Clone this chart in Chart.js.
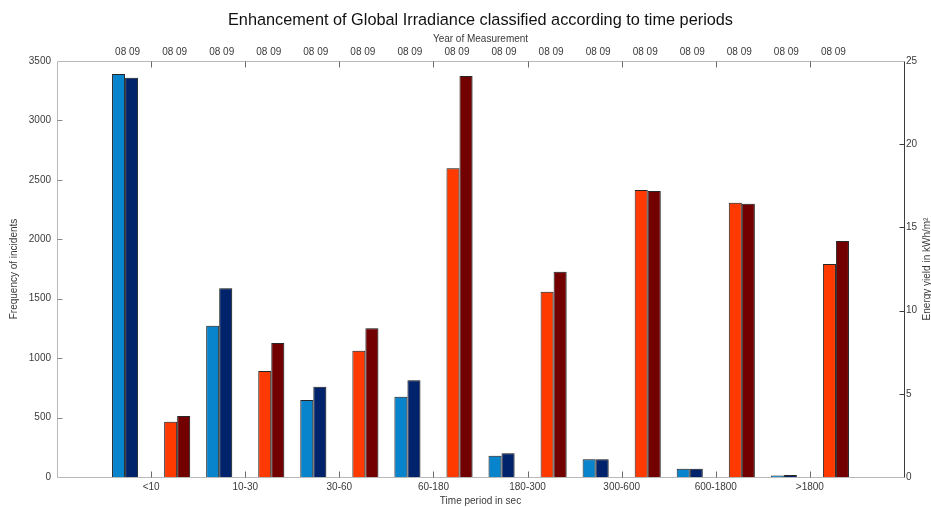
<!DOCTYPE html>
<html>
<head>
<meta charset="utf-8">
<title>Enhancement of Global Irradiance</title>
<script src="https://cdn.jsdelivr.net/npm/chart.js@4/dist/chart.umd.min.js"></script>
<style>
  html, body { margin: 0; padding: 0; background: #fff; }
  #wrap { width: 931px; height: 507px; }
</style>
</head>
<body>
<div id="wrap"><canvas id="c" width="931" height="507"></canvas></div>
<script>
// Time-period classes (seconds)
const periods = ['<10', '10-30', '30-60', '60-180', '180-300', '300-600', '600-1800', '>1800'];
const years = ['08', '09'];

// Frequency of incidents (left axis)
const freq08 = [3390, 1273, 648, 676, 179, 149, 70, 12];
const freq09 = [3360, 1588, 760, 814, 199, 149, 70, 16];

// Energy yield in kWh/m² (right axis)
const energy08 = [3.32, 6.37, 7.59, 18.55, 11.14, 17.25, 16.48, 12.8];
const energy09 = [3.67, 8.05, 8.94, 24.1, 12.34, 17.19, 16.42, 14.18];

// Axis ranges and tick steps
const freqTicks = [0, 500, 1000, 1500, 2000, 2500, 3000, 3500];
const energyTicks = [0, 5, 10, 15, 20, 25];

// Empty category at each end so the classes sit one step inside the frame
const labels = [''].concat(periods, ['']);
const pad = arr => [null].concat(arr, [null]);
const blank = labels.map(() => null);

const CAT_PCT = 0.83;      // share of a category occupied by the 6 bar slots
const YEAR_LABEL_STEP = 0.25; // year labels sit a quarter step either side of each class
const yearTickValues = [];
periods.forEach((p, i) => {
  yearTickValues.push(i + 1 - YEAR_LABEL_STEP, i + 1 + YEAR_LABEL_STEP);
});

const AREA = { left: 57, right: 904, top: 61, bottom: 477 };
const W = 931, H = 507;
const TITLE_PAD_TOP = 11, TITLE_SIZE = 16.3;
const TITLE_BLOCK = TITLE_PAD_TOP + TITLE_SIZE * 1.2;
const FONT_FAMILY = 'Liberation Sans, Arial, sans-serif';
const TICK_FONT = { family: FONT_FAMILY, size: 10 };
const TICK_COLOR = '#3a3a3a';

// Frame, inward tick marks and the right-hand axis title
const framePlugin = {
  id: 'frame',
  beforeDatasetsDraw(chart) {
    const ctx = chart.ctx;
    ctx.save();
    ctx.shadowColor = 'rgba(0,0,0,0.28)';
    ctx.shadowBlur = 2;
    ctx.shadowOffsetX = 1;
    ctx.shadowOffsetY = 0;
  },
  afterDatasetsDraw(chart) {
    chart.ctx.restore();
  },
  afterDraw(chart) {
    const { ctx, chartArea: a, scales } = chart;
    const L = Math.round(a.left) + 0.5, R = Math.round(a.right) + 0.5;
    const T = Math.round(a.top) + 0.5, B = Math.round(a.bottom) + 0.5;
    ctx.save();
    ctx.lineWidth = 1;
    ctx.strokeStyle = '#b8b8b8';
    ctx.beginPath();
    ctx.moveTo(R, T); ctx.lineTo(L, T); ctx.lineTo(L, B); ctx.lineTo(R, B);
    ctx.stroke();
    ctx.strokeStyle = '#3c3c3c';
    ctx.beginPath();
    ctx.moveTo(R, T); ctx.lineTo(R, B);
    ctx.stroke();

    // class ticks on top and bottom edges
    ctx.strokeStyle = '#6a6a6a';
    ctx.beginPath();
    periods.forEach((p, i) => {
      const x = Math.round(scales.x.getPixelForValue(i + 1)) + 0.5;
      ctx.moveTo(x, B); ctx.lineTo(x, B - 6);
      ctx.moveTo(x, T); ctx.lineTo(x, T + 6);
    });
    ctx.stroke();

    // left ticks
    ctx.strokeStyle = '#8a8a8a';
    ctx.beginPath();
    freqTicks.slice(1, -1).forEach(v => {
      const y = Math.round(scales.y.getPixelForValue(v)) + 0.5;
      ctx.moveTo(L, y); ctx.lineTo(L + 5, y);
    });
    ctx.stroke();

    // right ticks
    ctx.strokeStyle = '#3c3c3c';
    ctx.beginPath();
    energyTicks.slice(1, -1).forEach(v => {
      const y = Math.round(scales.y1.getPixelForValue(v)) + 0.5;
      ctx.moveTo(R, y); ctx.lineTo(R - 5, y);
    });
    ctx.stroke();

    // right axis title, reading upward like the left one
    ctx.fillStyle = TICK_COLOR;
    ctx.font = '10px ' + FONT_FAMILY;
    ctx.textAlign = 'center';
    ctx.textBaseline = 'middle';
    ctx.translate(927, (a.top + a.bottom) / 2);
    ctx.rotate(-Math.PI / 2);
    ctx.fillText('Energy yield in kWh/m²', 0, 0);
    ctx.restore();
  }
};

const barBase = { borderColor: '#2a2a2a', borderWidth: 1, borderSkipped: 'start',
                  categoryPercentage: CAT_PCT, barPercentage: 1.0, xAxisID: 'x' };
const plainNumber = v => String(v);

new Chart(document.getElementById('c'), {
  type: 'bar',
  data: {
    labels: labels,
    datasets: [
      Object.assign({ label: 'Frequency ' + years[0], data: pad(freq08), backgroundColor: '#0884cc', yAxisID: 'y' }, barBase),
      Object.assign({ label: 'Frequency ' + years[1], data: pad(freq09), backgroundColor: '#00236b', yAxisID: 'y' }, barBase),
      Object.assign({ label: 'gap a', data: blank, backgroundColor: 'transparent', yAxisID: 'y' }, barBase),
      Object.assign({ label: 'gap b', data: blank, backgroundColor: 'transparent', yAxisID: 'y' }, barBase),
      Object.assign({ label: 'Energy ' + years[0], data: pad(energy08), backgroundColor: '#ff3a00', yAxisID: 'y1' }, barBase),
      Object.assign({ label: 'Energy ' + years[1], data: pad(energy09), backgroundColor: '#730000', yAxisID: 'y1' }, barBase)
    ]
  },
  plugins: [framePlugin],
  options: {
    responsive: false,
    animation: false,
    layout: { padding: 0 },
    plugins: {
      legend: { display: false },
      tooltip: { enabled: false },
      title: {
        display: true,
        fullSize: false,
        text: 'Enhancement of Global Irradiance classified according to time periods',
        color: '#111',
        font: { family: FONT_FAMILY, size: TITLE_SIZE, weight: 'normal', lineHeight: 1.2 },
        padding: { top: TITLE_PAD_TOP, bottom: 0 }
      }
    },
    scales: {
      x: {
        type: 'category',
        position: 'bottom',
        offset: false,
        grid: { display: false, drawTicks: false, offset: false },
        border: { display: false },
        ticks: { font: TICK_FONT, color: TICK_COLOR, padding: 4, autoSkip: false, maxRotation: 0 },
        title: { display: true, text: 'Time period in sec', font: TICK_FONT, color: TICK_COLOR, padding: { top: 0, bottom: 0 } },
        afterFit(s) { s.height = H - AREA.bottom; }
      },
      x2: {
        type: 'linear',
        position: 'top',
        offset: false,
        min: 0,
        max: labels.length - 1,
        grid: { display: false, drawTicks: false, offset: false },
        border: { display: false },
        afterBuildTicks(s) { s.ticks = yearTickValues.map(v => ({ value: v })); },
        ticks: { font: TICK_FONT, color: TICK_COLOR, padding: 3, autoSkip: false, maxRotation: 0,
                 callback: () => years.join(' ') },
        title: { display: true, text: 'Year of Measurement', font: TICK_FONT, color: TICK_COLOR, padding: { top: 3, bottom: 0 } },
        afterFit(s) { s.height = AREA.top - TITLE_BLOCK; }
      },
      y: {
        position: 'left',
        min: 0,
        max: freqTicks[freqTicks.length - 1],
        grid: { display: false, drawTicks: false },
        border: { display: false },
        afterBuildTicks(s) { s.ticks = freqTicks.map(v => ({ value: v })); },
        ticks: { font: TICK_FONT, color: TICK_COLOR, padding: 6, callback: plainNumber },
        title: { display: true, text: 'Frequency of incidents', font: TICK_FONT, color: TICK_COLOR, padding: { top: 8, bottom: 0 } },
        afterFit(s) { s.width = AREA.left; }
      },
      y1: {
        position: 'right',
        min: 0,
        max: energyTicks[energyTicks.length - 1],
        grid: { display: false, drawTicks: false },
        border: { display: false },
        afterBuildTicks(s) { s.ticks = energyTicks.map(v => ({ value: v })); },
        ticks: { font: TICK_FONT, color: TICK_COLOR, padding: 2, callback: plainNumber },
        afterFit(s) { s.width = W - AREA.right; }
      }
    }
  }
});
</script>
</body>
</html>
